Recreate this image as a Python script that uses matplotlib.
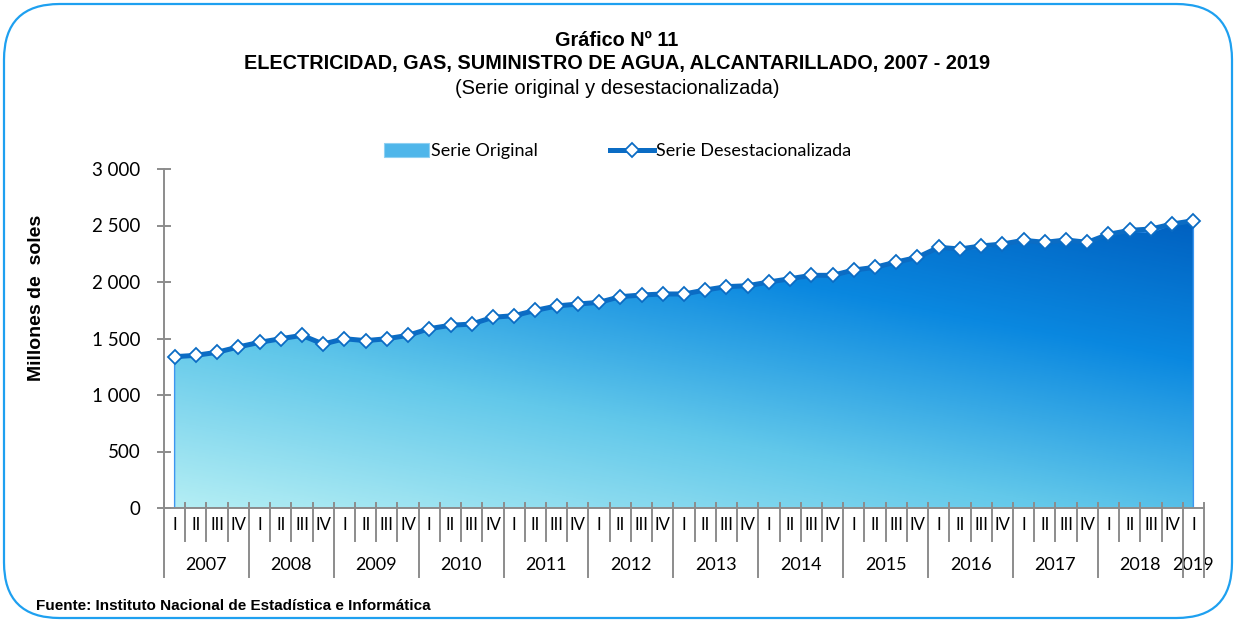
import numpy as np
import matplotlib
matplotlib.use("Agg")
import matplotlib.pyplot as plt
from matplotlib.colors import LinearSegmentedColormap
from matplotlib.lines import Line2D
from matplotlib.patches import FancyBboxPatch, Patch
import matplotlib.transforms as mtransforms

years = [str(y) for y in range(2007, 2020)]
quarters = ["I", "II", "III", "IV"]

# millones de soles, 2007-I a 2019-I
serie_original = [1325, 1345, 1370, 1418, 1460, 1490, 1522, 1447, 1490, 1474,
                  1492, 1522, 1580, 1610, 1622, 1682, 1698, 1740, 1780, 1800,
                  1815, 1862, 1878, 1890, 1890, 1922, 1950, 1962, 1995, 2022,
                  2040, 2055, 2100, 2125, 2170, 2212, 2300, 2285, 2300, 2330,
                  2362, 2345, 2366, 2348, 2415, 2450, 2440, 2508, 2540]
serie_desest = [1339, 1351, 1378, 1425, 1466, 1498, 1528, 1451, 1498, 1481,
                1498, 1528, 1587, 1617, 1628, 1688, 1702, 1749, 1788, 1805,
                1820, 1870, 1885, 1894, 1894, 1929, 1959, 1967, 2000, 2029,
                2059, 2059, 2106, 2130, 2177, 2218, 2307, 2292, 2319, 2336,
                2369, 2351, 2372, 2351, 2422, 2457, 2469, 2513, 2543]
y_ticks = [0, 500, 1000, 1500, 2000, 2500, 3000]

n = len(serie_desest)
x = np.arange(n)

arial = ["Liberation Sans", "DejaVu Sans"]
body = ["Lato", "DejaVu Sans"]
grey = "#8c8c8c"
line_blue = "#0b6cc4"

fig = plt.figure(figsize=(12.36, 6.22), dpi=100)
W, H = 1236, 622

# rounded frame around the whole chart
frame = FancyBboxPatch((4 / W, 4 / H), 1 - 8 / W, 1 - 8 / H,
                       boxstyle="round,pad=0,rounding_size=0.045",
                       transform=fig.transFigure, fill=False,
                       edgecolor="#1ea0f0", linewidth=1.6, mutation_aspect=W / H)
fig.patches.append(frame)

ax = fig.add_axes([164 / W, 1 - 508 / H, 1040 / W, 339 / H])

# gradient-filled area for the original series
cmap = LinearSegmentedColormap.from_list(
    "area", [(0.0, "#b4eef4"), (0.35, "#62c8ea"), (0.7, "#0a88e0"), (1.0, "#005fbf")])
gx = np.linspace(0, 1, 300)
gy = np.linspace(0, 1, 300)
GX, GY = np.meshgrid(gx, gy)
grad = 0.4 * GX + 0.6 * GY
poly = ax.fill_between(x, 0, serie_original, facecolor="none",
                       edgecolor="#3d96f0", linewidth=1.0, zorder=2)
img = ax.imshow(grad, cmap=cmap, origin="lower", aspect="auto",
                extent=(0, n - 1, 0, 2600), vmin=0, vmax=1, zorder=1)
img.set_clip_path(poly.get_paths()[0], transform=ax.transData)
ax.set_xlim(-0.5, n - 0.5)
ax.set_ylim(0, 3000)

ax.plot(x, serie_desest, color=line_blue, linewidth=3.6, marker="D",
        markersize=7, markerfacecolor="white", markeredgecolor=line_blue,
        markeredgewidth=1.3, zorder=3, solid_joinstyle="round")

# axes styling
for side in ["top", "right", "bottom"]:
    ax.spines[side].set_visible(False)
ax.spines["left"].set_color(grey)
ax.spines["left"].set_linewidth(1.4)
ax.set_yticks(y_ticks)
ax.set_yticklabels([f"{v:,}".replace(",", " ") for v in y_ticks],
                   fontfamily=body, fontsize=13.5)
ax.tick_params(axis="y", direction="inout", length=10, width=1.4,
               color=grey, pad=12)
ax.set_xticks([])

trans = mtransforms.blended_transform_factory(ax.transData, ax.transAxes)
ax.plot([-0.5, n - 0.5], [0, 0], transform=trans, color=grey, lw=1.4,
        clip_on=False, zorder=4)
for k in range(n + 1):
    b = k - 0.5
    is_year = (k % 4 == 0) or k == n
    y_end = -0.205 if is_year else -0.098
    ax.plot([b, b], [0.015, y_end], transform=trans, color=grey, lw=1.4,
            clip_on=False, zorder=4)
for k in range(n):
    ax.text(k, -0.05, quarters[k % 4], transform=trans, ha="center",
            va="center", fontsize=12, fontfamily=body)
for j, yr in enumerate(years):
    q = [k for k in range(4 * j, 4 * j + 4) if k < n]
    ax.text(np.mean(q), -0.167, yr, transform=trans, ha="center",
            va="center", fontsize=13, fontfamily=body)

ax.set_ylabel("Millones de  soles", fontsize=14, fontweight="bold",
              fontfamily=arial)
ax.yaxis.set_label_coords(-0.1144, 0.62)

# titles
fig.text(617 / W, 1 - 40 / H, "Gráfico Nº 11", ha="center", va="center",
         fontsize=14.3, fontweight="bold", fontfamily=arial)
fig.text(617 / W, 1 - 64 / H,
         "ELECTRICIDAD, GAS, SUMINISTRO DE AGUA, ALCANTARILLADO, 2007 - 2019",
         ha="center", va="center", fontsize=14.3, fontweight="bold",
         fontfamily=arial)
fig.text(617 / W, 1 - 89 / H, "(Serie original y desestacionalizada)",
         ha="center", va="center", fontsize=14.5, fontfamily=arial)

# legend
handles = [
    Patch(facecolor="#4fb6ea", edgecolor="#8fd0f2", linewidth=0.8),
    Line2D([0], [0], color=line_blue, linewidth=3.6, marker="D",
           markersize=7, markerfacecolor="white",
           markeredgecolor=line_blue, markeredgewidth=1.3),
]
fig.legend(handles, ["Serie Original", "Serie Desestacionalizada"],
           loc="center", bbox_to_anchor=(618 / W, 1 - 151 / H), ncol=2,
           frameon=False, prop={"family": body, "size": 13},
           handlelength=2.45, handleheight=0.8, handletextpad=0.12,
           columnspacing=4.0, numpoints=1)

fig.text(36 / W, 1 - 606 / H,
         "Fuente: Instituto Nacional de Estadística e Informática",
         ha="left", va="center", fontsize=11, fontweight="bold",
         fontfamily=arial)

fig.savefig("out.png", dpi=100)
